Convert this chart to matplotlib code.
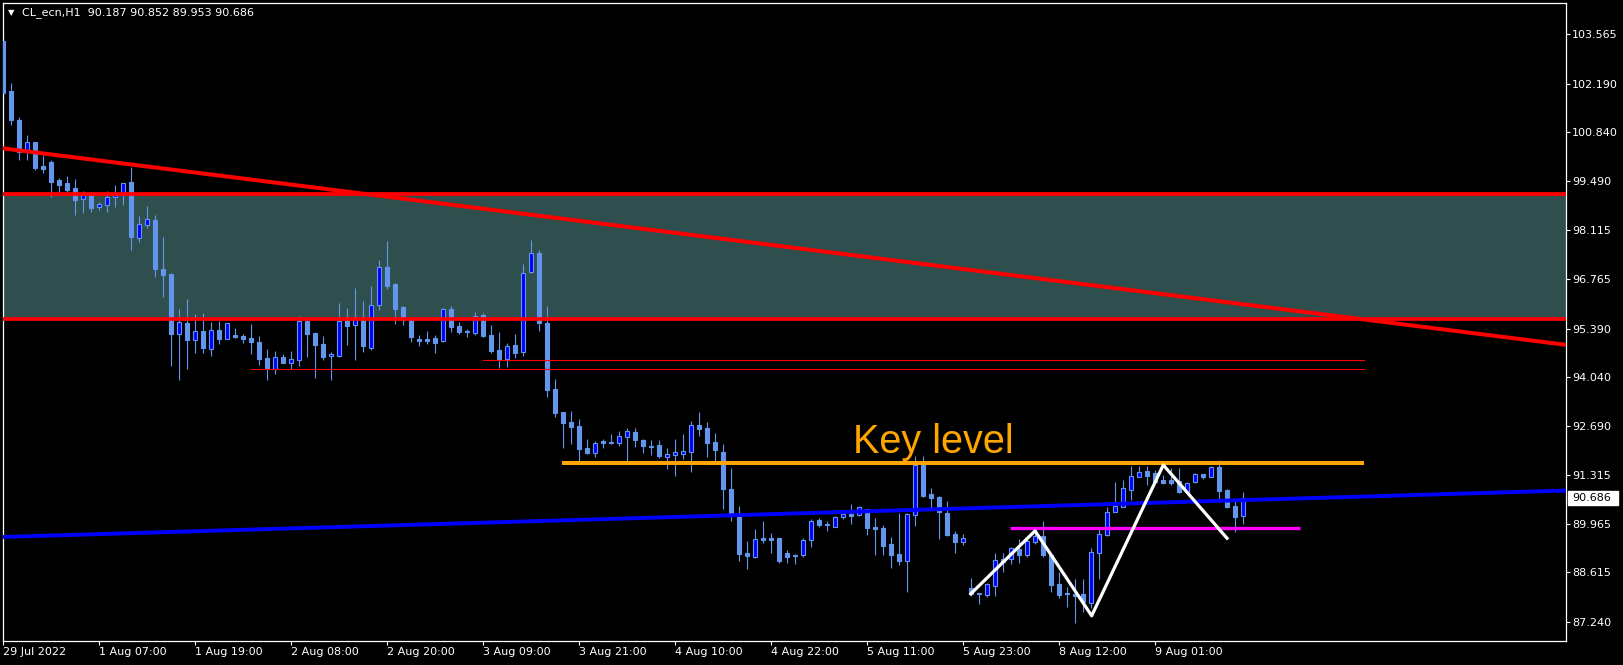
import matplotlib
matplotlib.use("Agg")
import matplotlib.pyplot as plt
import matplotlib.transforms as mtransforms
from matplotlib.patches import Rectangle

# ---------------- data ----------------
opens = [103.38, 101.99, 101.18, 100.35, 100.57, 99.91, 100.02, 99.52, 99.43, 99.29,
         98.99, 99.10, 98.76, 98.83, 99.03, 99.13, 99.46, 97.90, 98.26, 98.40,
         97.04, 96.90, 95.24, 95.54, 95.07, 95.32, 94.82, 95.35, 95.10, 95.21,
         95.18, 95.13, 95.02, 94.57, 94.27, 94.60, 94.44, 94.52, 95.61, 95.26,
         94.96, 94.62, 94.63, 95.72, 95.50, 95.72, 94.86, 96.05, 97.11, 96.63,
         95.99, 95.63, 95.11, 95.11, 95.13, 95.05, 95.93, 95.46, 95.33, 95.26,
         95.77, 95.21, 94.79, 94.55, 94.93, 94.75, 96.95, 97.48, 95.55, 93.72,
         93.07, 92.79, 92.68, 92.07, 91.94, 92.27, 92.25, 92.22, 92.39, 92.52,
         92.29, 92.13, 92.15, 91.83, 91.88, 91.91, 91.97, 92.71, 92.63, 92.24,
         91.96, 90.94, 90.16, 89.16, 89.05, 89.57, 89.57, 89.57, 89.16, 89.11,
         89.09, 89.51, 90.07, 89.97, 89.89, 90.15, 90.23, 90.20, 90.39, 89.89,
         89.86, 89.41, 89.12, 88.94, 90.22, 91.59, 90.79, 90.70, 90.27, 89.68,
         89.47, 88.17, 88.05, 88.00, 88.25, 88.98, 88.99, 89.27, 89.11, 89.46,
         89.62, 89.11, 88.29, 88.04, 88.01, 88.01, 87.76, 89.15, 89.65, 90.30,
         90.44, 90.91, 91.27, 91.43, 91.37, 91.18, 91.18, 91.15, 90.86, 91.14,
         91.35, 91.27, 91.55, 90.90, 90.46, 90.187]
highs = [103.61, 102.21, 101.26, 100.77, 100.57, 100.21, 100.07, 99.57, 99.63, 99.54,
         99.21, 99.10, 98.90, 99.21, 99.38, 99.43, 99.88, 98.52, 98.80, 98.54,
         97.93, 96.93, 95.93, 96.21, 95.79, 95.82, 95.57, 95.60, 95.54, 95.40,
         95.24, 95.51, 95.18, 94.82, 94.77, 94.68, 94.77, 95.74, 95.61, 95.26,
         95.18, 94.74, 96.10, 95.96, 96.52, 96.15, 96.57, 97.29, 97.82, 96.65,
         96.02, 95.63, 95.21, 95.32, 95.21, 95.96, 96.01, 95.57, 95.39, 95.85,
         95.82, 95.49, 95.29, 94.99, 95.24, 97.18, 97.85, 97.57, 96.02, 93.99,
         93.07, 93.10, 92.88, 92.32, 92.27, 92.32, 92.46, 92.55, 92.63, 92.63,
         92.32, 92.29, 92.29, 92.07, 92.32, 92.46, 92.82, 93.07, 92.79, 92.49,
         92.18, 91.52, 90.47, 89.48, 89.82, 90.04, 89.71, 89.57, 89.25, 89.14,
         89.58, 90.09, 90.13, 90.04, 90.17, 90.35, 90.52, 90.45, 90.39, 90.13,
         89.94, 89.61, 90.27, 90.27, 91.85, 91.85, 90.96, 90.74, 90.60, 89.76,
         89.68, 88.45, 88.05, 88.31, 89.15, 89.15, 89.33, 89.55, 89.59, 89.77,
         90.04, 89.16, 88.63, 88.22, 88.42, 88.42, 89.30, 89.86, 90.42, 91.13,
         91.18, 91.57, 91.57, 91.57, 91.45, 91.32, 91.51, 91.51, 91.14, 91.37,
         91.35, 91.57, 91.75, 90.93, 90.65, 90.852]
lows = [101.77, 101.04, 100.07, 100.07, 99.79, 99.71, 99.04, 99.15, 99.10, 98.54,
        98.60, 98.63, 98.68, 98.63, 98.77, 98.82, 97.57, 97.79, 98.18, 96.82,
        96.27, 94.35, 93.96, 94.27, 94.71, 94.71, 94.63, 94.96, 95.10, 95.13,
        94.99, 94.68, 94.38, 93.96, 94.14, 94.44, 94.27, 94.36, 94.61, 94.02,
        94.52, 93.96, 94.61, 94.94, 94.52, 94.75, 94.80, 95.91, 96.50, 95.52,
        95.50, 95.02, 94.91, 94.97, 94.72, 95.02, 95.30, 95.24, 95.16, 95.22,
        95.16, 94.72, 94.30, 94.33, 94.58, 94.64, 96.92, 95.33, 93.49, 92.94,
        92.08, 92.19, 91.72, 91.91, 91.83, 92.08, 92.19, 92.14, 91.72, 92.11,
        91.94, 91.88, 91.80, 91.50, 91.30, 91.76, 91.41, 92.41, 91.83, 91.69,
        90.39, 90.05, 88.93, 88.72, 89.02, 89.44, 89.16, 88.89, 88.89, 88.86,
        89.05, 89.33, 89.89, 89.77, 89.89, 90.11, 89.97, 90.17, 89.66, 89.09,
        89.09, 88.75, 88.82, 88.08, 89.90, 90.71, 90.40, 89.54, 89.63, 89.16,
        89.38, 87.97, 87.73, 87.94, 87.97, 88.63, 88.85, 88.88, 89.05, 89.41,
        89.05, 88.08, 87.91, 87.66, 87.22, 87.51, 87.63, 88.42, 89.64, 90.29,
        90.44, 90.63, 91.26, 91.04, 91.10, 91.07, 91.04, 90.81, 90.83, 91.09,
        91.20, 91.26, 90.65, 90.41, 89.75, 89.953]
closes = [101.94, 101.18, 100.30, 100.56, 99.85, 99.82, 99.46, 99.38, 99.24, 98.96,
          99.10, 98.74, 98.85, 99.04, 99.10, 99.43, 97.93, 98.29, 98.43, 97.04,
          96.88, 95.24, 95.57, 95.07, 95.32, 94.85, 95.35, 95.10, 95.54, 95.15,
          95.10, 95.02, 94.54, 94.30, 94.60, 94.44, 94.54, 95.61, 95.24, 94.93,
          94.61, 94.67, 95.61, 95.47, 95.72, 94.91, 96.05, 97.11, 96.58, 95.94,
          95.63, 95.16, 95.05, 95.05, 94.99, 95.93, 95.44, 95.30, 95.28, 95.75,
          95.19, 94.77, 94.55, 94.91, 94.72, 96.92, 97.48, 95.55, 93.69, 93.04,
          92.77, 92.66, 92.05, 91.94, 92.21, 92.22, 92.22, 92.40, 92.55, 92.30,
          92.13, 92.10, 91.86, 91.90, 91.96, 91.99, 92.71, 92.60, 92.22, 92.02,
          90.94, 90.24, 89.14, 89.08, 89.55, 89.52, 89.52, 88.94, 89.05, 89.07,
          89.51, 90.03, 89.94, 89.92, 90.15, 90.23, 90.18, 90.42, 89.86, 89.83,
          89.36, 89.11, 88.93, 90.23, 91.59, 90.74, 90.68, 90.28, 89.65, 89.46,
          89.57, 88.02, 88.01, 88.28, 88.95, 88.90, 89.28, 89.11, 89.48, 89.63,
          89.11, 88.27, 88.00, 88.01, 87.95, 87.78, 89.17, 89.68, 90.28, 90.46,
          90.95, 91.29, 91.40, 91.29, 91.13, 91.11, 91.11, 90.86, 91.11, 91.35,
          91.27, 91.53, 90.88, 90.44, 90.16, 90.686]

xtick_bars = [0, 12, 24, 36, 48, 60, 72, 84, 96, 108, 120, 132, 144]
xtick_labels = ["29 Jul 2022", "1 Aug 07:00", "1 Aug 19:00", "2 Aug 08:00", "2 Aug 20:00",
                "3 Aug 09:00", "3 Aug 21:00", "4 Aug 10:00", "4 Aug 22:00", "5 Aug 11:00",
                "5 Aug 23:00", "8 Aug 12:00", "9 Aug 01:00"]
ytick_values = [103.565, 102.190, 100.840, 99.490, 98.115, 96.765, 95.390, 94.040,
                92.690, 91.315, 89.965, 88.615, 87.240]

title_text = "CL_ecn,H1  90.187 90.852 89.953 90.686"
last_price = 90.686

zone_low, zone_high = 95.662, 99.134
trend_red_x = [-0.4, 195.34]
trend_red_y = [100.404, 94.937]
trend_blue_x = [-0.4, 195.34]
trend_blue_y = [89.598, 90.890]
key_level = 91.65
key_level_x = [69.8, 170.1]
thin_red_1 = 94.51
thin_red_1_x = [59.96, 170.1]
thin_red_2 = 94.257
thin_red_2_x = [30.96, 170.1]
magenta_level = 89.86
magenta_x = [125.8, 162.1]
zigzag_x = [120.8, 128.97, 136.05, 145.0, 153.1]
zigzag_y = [87.99, 89.77, 87.41, 91.60, 89.53]

# ---------------- figure ----------------
W, H = 1623, 665
fig = plt.figure(figsize=(W / 100, H / 100), dpi=100, facecolor="black")
left_px, right_px, top_px, bot_px = 2.5, 1566, 2.5, 641
ax = fig.add_axes([left_px / W, (H - bot_px) / H, (right_px - left_px) / W, (bot_px - top_px) / H])
ax.set_facecolor("black")

ax.set_xlim(-0.1, 195.34)
ax.set_ylim(86.71, 104.446)

for s in ax.spines.values():
    s.set_color("white")
    s.set_linewidth(0.9)

# zone
ax.axhspan(zone_low, zone_high, color="#2F4F4F", zorder=0, lw=0)

# candles
bar_color = "#6495ED"
idx = list(range(len(opens)))
ax.vlines(idx, lows, highs, color=bar_color, lw=0.8, zorder=2)
for i in idx:
    o, c = opens[i], closes[i]
    lo, hi = min(o, c), max(o, c)
    h = max(hi - lo, 0.03)
    if c >= o:
        ax.bar(i, h, bottom=lo, width=0.5, color="#0000FF", edgecolor=bar_color, lw=0.8, zorder=3)
    else:
        ax.bar(i, h, bottom=lo, width=0.5, color=bar_color, edgecolor=bar_color, lw=0.8, zorder=3)

# lines
ax.plot(trend_blue_x, trend_blue_y, color="#0000FF", lw=2.8, zorder=4, solid_capstyle="butt")
ax.axhline(zone_high, color="#FF0000", lw=2.7, zorder=5)
ax.axhline(zone_low, color="#FF0000", lw=2.7, zorder=5)
ax.plot(trend_red_x, trend_red_y, color="#FF0000", lw=2.9, zorder=5, solid_capstyle="butt")
ax.plot(thin_red_1_x, [thin_red_1] * 2, color="#FF0000", lw=0.8, zorder=5)
ax.plot(thin_red_2_x, [thin_red_2] * 2, color="#FF0000", lw=0.8, zorder=5)
ax.plot(key_level_x, [key_level] * 2, color="#FFA500", lw=2.9, zorder=5, solid_capstyle="butt")
ax.plot(magenta_x, [magenta_level] * 2, color="#FF00FF", lw=2.4, zorder=5, solid_capstyle="butt")
ax.plot(zigzag_x, zigzag_y, color="white", lw=2.3, zorder=6, solid_capstyle="butt")

ax.text(106.2, 91.92, "Key level", color="#FFA500", fontsize=28.5,
        family="Liberation Sans", ha="left", va="baseline", zorder=7)

# ticks
ax.yaxis.tick_right()
ax.set_yticks(ytick_values)
ax.set_yticklabels([f"{v:.3f}" for v in ytick_values])
ax.set_xticks(xtick_bars)
ax.set_xticklabels(xtick_labels, ha="left")
ax.tick_params(axis="y", colors="white", length=3, width=0.8, pad=1.5, labelsize=8, direction="out")
ax.tick_params(axis="x", colors="white", length=3, width=0.8, pad=1.5, labelsize=8, direction="out")
for lbl in ax.get_xticklabels() + ax.get_yticklabels():
    lbl.set_family("DejaVu Sans")

# current price box (white box on the price scale)
trans = mtransforms.blended_transform_factory(ax.transAxes, ax.transData)
box_h = 14 / 36.0  # price units for ~14 px
ax.add_patch(Rectangle((1.0 + 2 / 1563.5, last_price - box_h / 2), 50 / 1563.5, box_h,
                       transform=trans, facecolor="white", edgecolor="white",
                       clip_on=False, zorder=9))
ax.text(1.0 + 6 / 1563.5, last_price, f"{last_price:.3f}", transform=trans, color="black",
        fontsize=8, family="DejaVu Sans", ha="left", va="center", clip_on=False, zorder=10)

# title
fig.text(21.5 / W, 1 - 12.7 / H, title_text, color="white", fontsize=8,
         family="DejaVu Sans", ha="left", va="center")
fig.text(11 / W, 1 - 12.5 / H, "\u25BC", color="white", fontsize=6,
         family="DejaVu Sans", ha="center", va="center")

fig.savefig("out.png", dpi=100, facecolor="black")
